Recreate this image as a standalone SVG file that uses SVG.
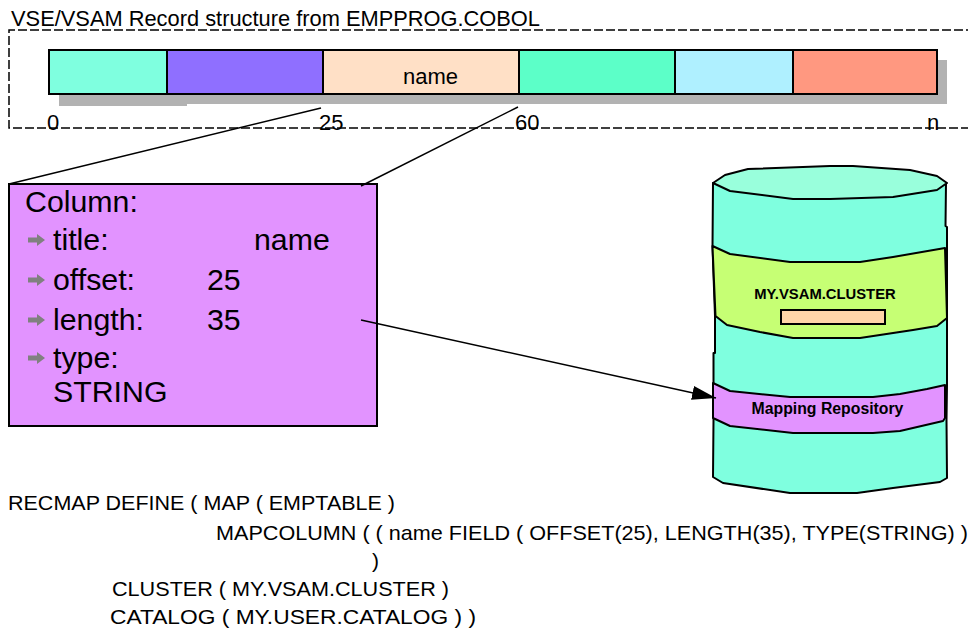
<svg xmlns="http://www.w3.org/2000/svg" width="968" height="632" viewBox="0 0 968 632">
<style>
text{font-family:"Liberation Sans",Arial,sans-serif;fill:#000}
.t{font-size:22px}
.c{font-size:30.300px}
.b{font-weight:bold}
.m{font-size:21px}
.s{stroke:#000;stroke-width:2}
.o{stroke:#000;stroke-width:2;stroke-linejoin:round}
.l{stroke:#000;stroke-width:1.500;fill:none}
.bl{fill:#808080}
</style>
<defs>
<marker id="ah" markerUnits="userSpaceOnUse" markerWidth="26" markerHeight="16" refX="24" refY="7" orient="auto"><path d="M0 0L24 7L0 14Z" fill="#000"/></marker>
<path id="bu" d="M0 -2.500H9V-6L17 0L9 6V2.500H0Z"/>
</defs>
<rect width="968" height="632" fill="#fff"/>
<g id="record-frame">
<path d="M975 30H9V128H975" fill="none" stroke="#000" stroke-width="1.500" stroke-dasharray="9 3"/>
<text class="t" x="11" y="26" textLength="529" lengthAdjust="spacingAndGlyphs">VSE/VSAM Record structure from EMPPROG.COBOL</text>
</g>
<g id="record">
<path d="M59 60H947V104H187V106H59Z" fill="#b2b2b2"/>
<rect class="s" x="49" y="50" width="118" height="44" fill="#7fffdf"/>
<rect class="s" x="167" y="50" width="156" height="44" fill="#8f6fff"/>
<rect class="s" x="323" y="50" width="196" height="44" fill="#ffe0c6"/>
<rect class="s" x="519" y="50" width="156" height="44" fill="#5cffc8"/>
<rect class="s" x="675" y="50" width="118" height="44" fill="#aff0ff"/>
<rect class="s" x="793" y="50" width="144" height="44" fill="#ff9880"/>
<text class="t" x="430.500" y="84" text-anchor="middle">name</text>
</g>
<g id="offsets">
<text class="t" x="47" y="130">0</text>
<text class="t" x="319" y="130">25</text>
<text class="t" x="515" y="130">60</text>
<text class="t" x="927" y="130">n</text>
</g>
<g id="column">
<rect class="s" x="9" y="184" width="368" height="242" fill="#e293ff"/>
<text class="c" x="25" y="212">Column:</text>
<use href="#bu" class="bl" x="28" y="240"/>
<text class="c" x="53" y="250">title:</text><text class="c" x="254" y="250">name</text>
<use href="#bu" class="bl" x="28" y="280"/>
<text class="c" x="53" y="290">offset:</text><text class="c" x="207" y="290">25</text>
<use href="#bu" class="bl" x="28" y="320"/>
<text class="c" x="53" y="330">length:</text><text class="c" x="207" y="330">35</text>
<use href="#bu" class="bl" x="28" y="358"/>
<text class="c" x="53" y="368">type:</text>
<text class="c" x="53" y="402">STRING</text>
</g>
<g id="cylinder">
<path class="o" d="M713 183L712.500 247L715 316L715 353L713.500 353L713.500 420L713 477L723 483L790 493L857 493L893 488L940 482L947 478L946.500 420L947 385L947 320L947 227L945.500 226L946 183Z" fill="#7fffdf"/>
<path class="o" d="M713 183L725 175L748 169L830 166L853 166L910 170L937 176L947 183L937 190L893 197L830 199L793 199L730 191Z" fill="#99ffdc"/>
<path class="o" d="M712.500 246L730 254L790 262L860 262L893 257L945 248L947 318L937 326L913 330L860 338L793 338L760 332L727 325L715.500 316Z" fill="#c6ff74"/>
<text class="b" x="825" y="299" text-anchor="middle" font-size="14.800">MY.VSAM.CLUSTER</text>
<rect class="s" x="781" y="310" width="104" height="14" fill="#ffd5a8"/>
<path class="o" d="M713 383L730 391L790 397L873 397L900 394L927 389L945 385L945 418L943 421L900 431L873 433L793 433L730 426L713 418Z" fill="#e293ff"/>
<text class="b" x="827.500" y="414" text-anchor="middle" font-size="15.800">Mapping Repository</text>
</g>
<g id="connectors">
<path class="l" d="M321 108L9 184"/>
<path class="l" d="M518 107L361 186"/>
<path class="l" d="M361 320L716 398" marker-end="url(#ah)"/>
</g>
<g id="recmap">
<text class="m" x="8" y="510" textLength="387" lengthAdjust="spacingAndGlyphs">RECMAP DEFINE ( MAP ( EMPTABLE )</text>
<text class="m" x="216" y="540" textLength="752" lengthAdjust="spacingAndGlyphs">MAPCOLUMN ( ( name FIELD ( OFFSET(25), LENGTH(35), TYPE(STRING) )</text>
<text class="m" x="372" y="568">)</text>
<text class="m" x="112" y="596" textLength="337" lengthAdjust="spacingAndGlyphs">CLUSTER ( MY.VSAM.CLUSTER )</text>
<text class="m" x="110" y="624" textLength="366" lengthAdjust="spacingAndGlyphs">CATALOG ( MY.USER.CATALOG )  )</text>
</g>
</svg>
